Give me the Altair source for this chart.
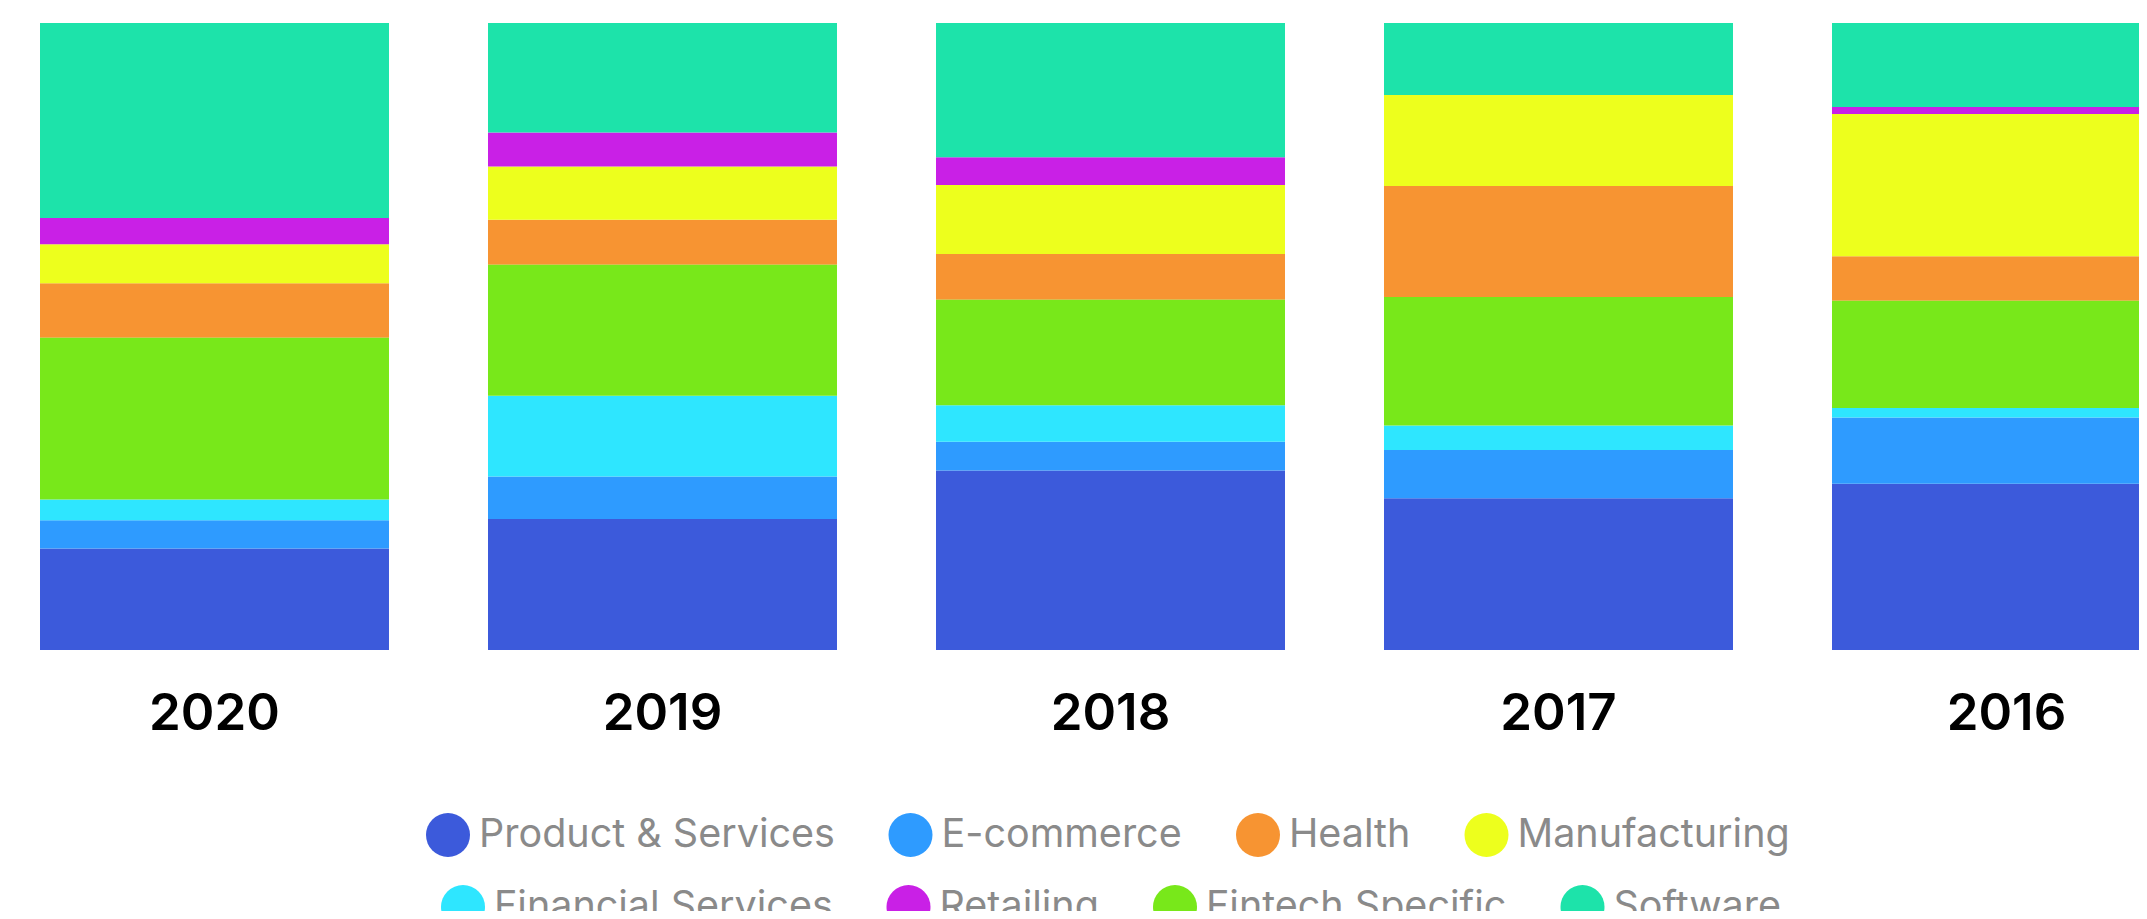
import altair as alt
import pandas as pd

years = ["2020", "2019", "2018", "2017", "2016"]

# legend rows (legend order)
legend_row1 = ["Product & Services", "E-commerce", "Health", "Manufacturing"]
colors_row1 = ["#3C5ADB", "#2E9BFF", "#F79432", "#EDFF1D"]
legend_row2 = ["Financial Services", "Retailing", "Fintech Specific", "Software"]
colors_row2 = ["#2EE6FF", "#C920E6", "#78E81A", "#1DE3AA"]

# stacking order, bottom to top
stack_order = ["Product & Services", "E-commerce", "Financial Services", "Fintech Specific",
               "Health", "Manufacturing", "Retailing", "Software"]

# shares (%) per year, in the order of `years`
product_services = [16.2, 20.9, 28.6, 24.2, 26.5]
e_commerce = [4.5, 6.8, 4.6, 7.7, 10.6]
financial_services = [3.3, 12.9, 5.8, 3.9, 1.5]
fintech_specific = [25.8, 20.9, 16.8, 20.5, 17.1]
health = [8.7, 7.2, 7.3, 17.7, 7.1]
manufacturing = [6.2, 8.5, 11.0, 14.5, 22.7]
retailing = [4.2, 5.4, 4.4, 0.0, 1.1]
software = [31.1, 17.5, 21.4, 11.5, 13.4]

series = {
    "Product & Services": product_services,
    "E-commerce": e_commerce,
    "Financial Services": financial_services,
    "Fintech Specific": fintech_specific,
    "Health": health,
    "Manufacturing": manufacturing,
    "Retailing": retailing,
    "Software": software,
}

rows = []
for cat, vals in series.items():
    for y, v in zip(years, vals):
        rows.append({"year": y, "category": cat, "value": v,
                     "rank": stack_order.index(cat)})
df = pd.DataFrame(rows)

x_enc = alt.X("year:N", sort=years,
              scale=alt.Scale(range=[32, 2173], paddingInner=0.221, paddingOuter=0,
                              round=False),
              axis=alt.Axis(title=None, orient="bottom", ticks=False, domain=False,
                            labelAngle=0, labelFont="Inter", labelFontSize=51,
                            labelFontWeight=600, labelColor="#000000",
                            labelPadding=39))

def legend(x, y):
    return alt.Legend(title=None, orient="none", legendX=x, legendY=y,
                      direction="horizontal", symbolType="circle",
                      symbolSize=1936, symbolStrokeWidth=0, symbolOpacity=1,
                      labelFont="Inter", labelFontSize=39.5, labelColor="#8A8A8A",
                      labelOffset=9, columnPadding=53.5, labelLimit=0, padding=0)

base = alt.Chart(df).transform_stack(
    stack="value", groupby=["year"], as_=["y0", "y1"], offset="normalize",
    sort=[alt.SortField("rank", order="ascending")],
)

row1 = base.transform_filter(
    alt.FieldOneOfPredicate(field="category", oneOf=legend_row1)
).mark_bar(clip=True).encode(
    x=x_enc,
    y=alt.Y("y0:Q", axis=None, scale=alt.Scale(domain=[0, 1])),
    y2="y1:Q",
    color=alt.Color("category:N",
                    scale=alt.Scale(domain=legend_row1, range=colors_row1),
                    legend=legend(418, 790)),
)

row2 = base.transform_filter(
    alt.FieldOneOfPredicate(field="category", oneOf=legend_row2)
).mark_bar(clip=True).encode(
    x=x_enc,
    y=alt.Y("y0:Q", axis=None, scale=alt.Scale(domain=[0, 1])),
    y2="y1:Q",
    fill=alt.Fill("category:N",
                  scale=alt.Scale(domain=legend_row2, range=colors_row2),
                  legend=legend(433, 862)),
)

chart = alt.layer(row1, row2).properties(
    width=2131, height=627,
    padding={"left": 0, "top": 15, "right": 0, "bottom": 261},
    autosize=alt.AutoSizeParams(type="none"),
).configure_view(stroke=None)

chart.save("out.html", embed_options={"renderer": "svg", "actions": False})
